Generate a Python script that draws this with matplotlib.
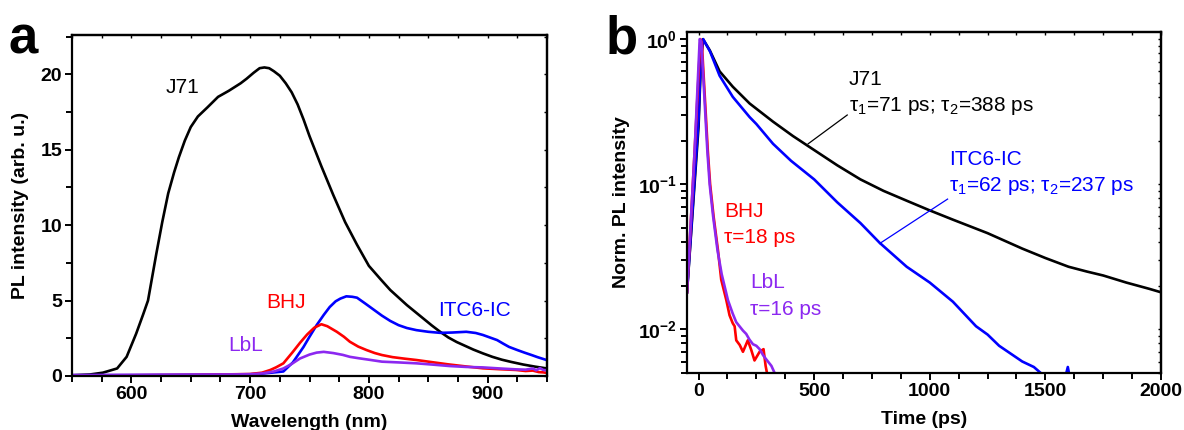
import numpy as np
import matplotlib
matplotlib.use("Agg")
import matplotlib.pyplot as plt
from matplotlib.ticker import MultipleLocator, LogLocator, NullFormatter, FixedLocator

plt.rcParams['font.family'] = ['Liberation Sans', 'DejaVu Sans']
plt.rcParams['mathtext.fontset'] = 'custom'
plt.rcParams['mathtext.rm'] = 'Liberation Sans'
plt.rcParams['mathtext.bf'] = 'Liberation Sans:bold'
plt.rcParams['mathtext.it'] = 'Liberation Sans:italic'

# ---------------- Panel a: PL spectra ----------------
wl_j71 = [550, 565, 576, 588, 596, 604, 610, 614, 621, 626, 631, 636, 640, 645, 650, 656,
          664, 673, 682, 692, 697, 703, 708, 712, 716, 720, 725, 730, 735, 740, 745, 750,
          755, 760, 770, 780, 790, 800, 810, 818, 825, 832, 839, 846, 853, 860, 867, 874,
          881, 888, 896, 904, 912, 920, 930, 940, 950]
pl_j71 = [0.05, 0.1, 0.22, 0.5, 1.27, 2.8, 4.1, 5.0, 8.1, 10.2, 12.1, 13.5, 14.5, 15.6, 16.5, 17.2,
          17.8, 18.5, 18.9, 19.4, 19.7, 20.1, 20.4, 20.45, 20.4, 20.2, 19.9, 19.4, 18.8, 18.0, 17.0, 15.9,
          14.9, 13.9, 12.0, 10.2, 8.7, 7.3, 6.4, 5.7, 5.2, 4.7, 4.25, 3.8, 3.35, 2.93, 2.55, 2.25,
          2.0, 1.75, 1.5, 1.27, 1.08, 0.93, 0.76, 0.62, 0.5]

wl_itc = [550, 600, 650, 700, 710, 718, 728, 736, 745, 750, 756, 762, 767, 772, 776, 781, 786,
          790, 797, 804, 811, 818, 825, 832, 840, 850, 860, 870, 882, 890, 896, 902, 908, 913,
          918, 925, 931, 937, 942, 948, 950]
pl_itc = [0.05, 0.06, 0.08, 0.12, 0.16, 0.22, 0.3, 0.9, 1.93, 2.6, 3.37, 4.05, 4.57, 4.95, 5.13, 5.28, 5.25,
          5.19, 4.8, 4.4, 4.0, 3.65, 3.37, 3.18, 3.04, 2.93, 2.86, 2.88, 2.93, 2.85, 2.72, 2.55, 2.38, 2.15,
          1.93, 1.72, 1.55, 1.39, 1.25, 1.1, 1.05]

wl_bhj = [550, 600, 650, 700, 710, 717, 722, 728, 736, 742, 748, 754, 760, 765, 773, 779, 784,
          791, 798, 805, 811, 820, 830, 840, 853, 867, 881, 896, 910, 924, 932, 938, 943, 947, 950]
pl_bhj = [0.04, 0.05, 0.07, 0.13, 0.22, 0.4, 0.58, 0.84, 1.6, 2.2, 2.75, 3.2, 3.43, 3.3, 2.93, 2.6, 2.27,
          1.95, 1.72, 1.52, 1.39, 1.25, 1.15, 1.06, 0.92, 0.77, 0.64, 0.51, 0.45, 0.4, 0.33, 0.36, 0.26, 0.24, 0.2]

wl_lbl = [550, 600, 650, 700, 710, 720, 728, 735, 742, 750, 756, 762, 770, 778, 784, 792, 800, 811,
          825, 840, 853, 868, 882, 896, 910, 924, 932, 938, 941, 944, 947, 950]
pl_lbl = [0.06, 0.07, 0.09, 0.11, 0.17, 0.3, 0.5, 0.8, 1.16, 1.42, 1.55, 1.6, 1.52, 1.4, 1.27, 1.17, 1.08, 0.95,
          0.9, 0.84, 0.76, 0.66, 0.6, 0.57, 0.5, 0.44, 0.42, 0.5, 0.38, 0.52, 0.4, 0.38]

# ---------------- Panel b: TRPL decays ----------------
t_j71 = [-50, 0, 10, 19, 48, 91, 148, 221, 322, 408, 500, 600, 700, 800, 900, 1000,
         1100, 1250, 1400, 1500, 1600, 1680, 1750, 1850, 1950, 2000]
y_j71 = [0.018, 0.25, 0.7, 1.0, 0.84, 0.6, 0.47, 0.36, 0.27, 0.215, 0.172, 0.135, 0.108, 0.09,
         0.077, 0.066, 0.057, 0.046, 0.036, 0.031, 0.027, 0.025, 0.0235, 0.021, 0.019, 0.018]

t_itc = [-50, 0, 10, 20, 50, 91, 148, 221, 250, 322, 400, 500, 600, 700, 783, 900, 1000,
         1100, 1200, 1250, 1300, 1400, 1450, 1480, 1520, 1585, 1597, 1605, 1615]
y_itc = [0.018, 0.28, 0.75, 1.0, 0.82, 0.56, 0.40, 0.29, 0.26, 0.19, 0.145, 0.108, 0.075, 0.054, 0.0395,
         0.027, 0.021, 0.0155, 0.0105, 0.0092, 0.0077, 0.006, 0.0055, 0.005, 0.0046, 0.0046,
         0.0055, 0.0047, 0.0045]

t_bhj = [-50, -17, 8, 14, 40, 50, 65, 84, 98, 120, 134, 148, 156, 163, 178, 192, 213, 228, 242,
         264, 281, 290, 296, 305]
y_bhj = [0.018, 0.17, 1.0, 0.95, 0.17, 0.10, 0.06, 0.035, 0.022, 0.0159, 0.0125, 0.011, 0.0105, 0.0084,
         0.0078, 0.0070, 0.0084, 0.0072, 0.0061, 0.0070, 0.0073, 0.0056, 0.005, 0.0042]

t_lbl = [-50, -17, 5, 12, 38, 48, 63, 82, 100, 127, 148, 163, 177, 192, 206, 220, 235, 250, 264,
         280, 293, 315, 329, 340]
y_lbl = [0.018, 0.17, 1.0, 0.96, 0.17, 0.10, 0.06, 0.035, 0.024, 0.0159, 0.0128, 0.0112, 0.0105, 0.0098,
         0.0093, 0.0085, 0.0079, 0.0077, 0.0073, 0.0066, 0.0062, 0.0056, 0.005, 0.0044]

BLACK = 'black'
RED = '#FF0000'
BLUE = '#0000FF'
PURPLE = '#8C28F0'

fig = plt.figure(figsize=(11.84, 4.30), dpi=100)
axa = fig.add_axes([72/1184, 1-376/430, (547-72)/1184, (376-35)/430])
axb = fig.add_axes([687/1184, 1-373/430, (1161-687)/1184, (373-32)/430])

lw = 1.9
axa.plot(wl_j71, pl_j71, color=BLACK, lw=lw)
axa.plot(wl_itc, pl_itc, color=BLUE, lw=lw)
axa.plot(wl_bhj, pl_bhj, color=RED, lw=lw)
axa.plot(wl_lbl, pl_lbl, color=PURPLE, lw=lw)
axa.set_xlim(550, 950)
axa.set_ylim(0, 22.6)
axa.xaxis.set_major_locator(FixedLocator([600, 700, 800, 900]))
axa.xaxis.set_minor_locator(MultipleLocator(25))
axa.yaxis.set_major_locator(MultipleLocator(5))
axa.yaxis.set_minor_locator(MultipleLocator(2.5))
axa.set_xlabel('Wavelength (nm)', fontsize=14, fontweight='bold', labelpad=8)
axa.set_ylabel('PL intensity (arb. u.)', fontsize=14, fontweight='bold', labelpad=8)

tfs = 15
axa.text(629, 19.1, 'J71', color=BLACK, fontsize=tfs, ha='left', va='center')
axa.text(714, 4.9, 'BHJ', color=RED, fontsize=tfs, ha='left', va='center')
axa.text(858, 4.35, 'ITC6-IC', color=BLUE, fontsize=tfs, ha='left', va='center')
axa.text(682, 2.0, 'LbL', color=PURPLE, fontsize=tfs, ha='left', va='center')

axb.plot(t_j71, y_j71, color=BLACK, lw=lw)
axb.plot(t_itc, y_itc, color=BLUE, lw=lw)
axb.plot(t_bhj, y_bhj, color=RED, lw=lw)
axb.plot(t_lbl, y_lbl, color=PURPLE, lw=lw)
axb.set_yscale('log')
axb.set_xlim(-50, 2000)
axb.set_ylim(0.005, 1.12)
axb.xaxis.set_major_locator(MultipleLocator(500))
axb.xaxis.set_minor_locator(MultipleLocator(125))
axb.yaxis.set_major_locator(FixedLocator([0.01, 0.1, 1.0]))
axb.set_yticklabels([r'$\mathbf{10^{-2}}$', r'$\mathbf{10^{-1}}$', r'$\mathbf{10^{0}}$'])
axb.yaxis.set_minor_locator(LogLocator(base=10, subs=np.arange(2, 10)))
axb.yaxis.set_minor_formatter(NullFormatter())
axb.set_xlabel('Time (ps)', fontsize=14, fontweight='bold', labelpad=8)
axb.set_ylabel('Norm. PL intensity', fontsize=14, fontweight='bold', labelpad=6)

axb.text(651, 0.525, 'J71', color=BLACK, fontsize=tfs, ha='left', va='center')
axb.text(651, 0.345, r'τ$_1$=71 ps; τ$_2$=388 ps', color=BLACK, fontsize=tfs, ha='left', va='center')
axb.plot([643, 474], [0.30, 0.19], color=BLACK, lw=0.9)
axb.text(1085, 0.148, 'ITC6-IC', color=BLUE, fontsize=tfs, ha='left', va='center')
axb.text(1085, 0.097, r'τ$_1$=62 ps; τ$_2$=237 ps', color=BLUE, fontsize=tfs, ha='left', va='center')
axb.plot([1077, 783], [0.079, 0.039], color=BLUE, lw=0.9)
axb.text(109, 0.065, 'BHJ', color=RED, fontsize=tfs, ha='left', va='center')
axb.text(109, 0.043, 'τ=18 ps', color=RED, fontsize=tfs, ha='left', va='center')
axb.text(222, 0.021, 'LbL', color=PURPLE, fontsize=tfs, ha='left', va='center')
axb.text(222, 0.0137, 'τ=16 ps', color=PURPLE, fontsize=tfs, ha='left', va='center')

for ax in (axa, axb):
    for s in ax.spines.values():
        s.set_linewidth(1.6)
    ax.tick_params(which='both', direction='out', width=1.4, top=False, right=False)
    ax.tick_params(which='major', length=5, labelsize=14, pad=2)
    ax.tick_params(which='minor', length=4)
    for lab in ax.get_xticklabels() + ax.get_yticklabels():
        lab.set_fontweight('bold')
    sec_x = ax.secondary_xaxis('top')
    sec_y = ax.secondary_yaxis('right')
    for sec in (sec_x, sec_y):
        sec.tick_params(which='both', direction='in', length=2.5, width=1.0)
    sec_x.xaxis.set_major_locator(ax.xaxis.get_major_locator())
    sec_x.xaxis.set_minor_locator(ax.xaxis.get_minor_locator())
    sec_x.xaxis.set_major_formatter(NullFormatter())
    sec_y.yaxis.set_major_locator(ax.yaxis.get_major_locator())
    sec_y.yaxis.set_minor_locator(ax.yaxis.get_minor_locator())
    sec_y.yaxis.set_major_formatter(NullFormatter())
    sec_y.yaxis.set_minor_formatter(NullFormatter())
    sec_x.spines['top'].set_linewidth(1.6)
    sec_y.spines['right'].set_linewidth(1.6)

fig.text(8/1184, 1-53/430, 'a', fontsize=38, fontweight='bold', va='baseline', ha='left')
fig.text(606/1184, 1-53/430, 'b', fontsize=38, fontweight='bold', va='baseline', ha='left')

fig.savefig('out.png', dpi=100)
